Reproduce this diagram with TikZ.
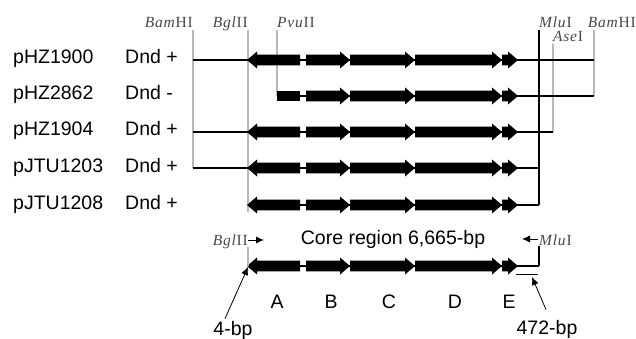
\documentclass[tikz,border=0pt]{standalone}
\usepackage{fontspec}
\setmainfont{Liberation Sans}
\newfontfamily\enzfont{Liberation Serif}[LetterSpace=5]
\usetikzlibrary{arrows.meta}
\tikzset{>={Latex[length=8pt,width=7pt]}}
\colorlet{Cutcol}{black!28}
\colorlet{Enzcol}{black!72}
\tikzset{
  lbl/.style={font=\fontsize{19.5}{20}\selectfont, inner sep=0pt},
  enz/.style={font=\enzfont\fontsize{15.5}{16}\selectfont, text=Enzcol, inner sep=0pt},
  cut/.style={Cutcol, line width=1.4pt},
  dna/.style={black, line width=1.8pt},
}

\begin{document}
\begin{tikzpicture}[x=1pt, y=-1pt]
    \useasboundingbox (0,0) rectangle (636,339);
    \def\BH{5.3}  % half height of gene body
    \def\HH{8.5}  % half height of gene head
    \def\HL{10}   % head length
    % gene pointing right / left: start, end, row
    \def\gener#1#2#3{\fill (#1,#3-\BH) -- (#2-\HL,#3-\BH) -- (#2-\HL,#3-\HH) -- (#2,#3) -- (#2-\HL,#3+\HH) -- (#2-\HL,#3+\BH) -- (#1,#3+\BH) -- cycle;}
    \def\genel#1#2#3{\fill (#2,#3-\BH) -- (#1+\HL,#3-\BH) -- (#1+\HL,#3-\HH) -- (#1,#3) -- (#1+\HL,#3+\HH) -- (#1+\HL,#3+\BH) -- (#2,#3+\BH) -- cycle;}

    % restriction sites
    \node (bamL) [enz, anchor=base east] at (193,28) {\textit{Bam}HI};
    \node (bgl)  [enz, anchor=base east] at (248,28) {\textit{Bgl}II};
    \node (pvu)  [enz, anchor=base west] at (277,28) {\textit{Pvu}II};
    \node (mlu)  [enz, anchor=base west] at (539,28) {\textit{Mlu}I};
    \node (ase)  [enz, anchor=base west] at (553,42) {\textit{Ase}I};
    \node (bamR) [enz, anchor=base east] at (636,28) {\textit{Bam}HI};
    \draw [cut] (193,30) -- (193,168);
    \draw [cut] (248,30) -- (248,212);
    \draw [cut] (277,30) -- (277,96);
    \draw [cut] (553,44) -- (553,132);
    \draw [cut] (594,30) -- (594,96);
    \draw [black, line width=1.1pt] (539,30) -- (539,205);

    % plasmids
    \foreach \y/\name/\sign in {60/pHZ1900/+, 96/pHZ2862/-, 132/pHZ1904/+, 168/pJTU1203/+, 205/pJTU1208/+}{
        \node (n\name) [lbl, anchor=base west] at (13,\y+4) {\name};
        \node (d\name) [lbl, anchor=base west] at (125,\y+4) {Dnd \sign};
    }
    \foreach \y/\xs/\xe in {60/193/594, 96/277/594, 132/193/553, 168/193/539, 205/248/539, 266/300/539}
        \draw [dna] (\xs,\y) -- (\xe,\y);
    \foreach \y in {60,132,168,205,266}
        \genel{247}{300}{\y}
    \fill (277,96-\BH) rectangle (300,96+\BH);
    \foreach \y in {60,96,132,168,205,266}{
        \gener{306}{350}{\y}
        \gener{350}{415}{\y}
        \gener{415}{502}{\y}
        \gener{502}{518}{\y}
    }

    % core region
    \node (bglc) [enz, anchor=base east] at (248,245) {\textit{Bgl}II};
    \draw [->, line width=0.8pt] (248,240) -- (264,240);
    \draw [Cutcol, line width=1.2pt] (248,247) -- (248,266);
    \node (core) [lbl, anchor=base] at (393,244) {Core region 6,665-bp};
    \node (mluc) [enz, anchor=base west] at (539,245) {\textit{Mlu}I};
    \draw [->, line width=0.8pt] (538,239) -- (522,239);
    \draw [line width=1.1pt] (539,246) -- (539,266);
    \draw [line width=1pt] (516,274) -- (538,274);
    \foreach \x/\g in {277/A, 331/B, 389/C, 455/D, 509/E}
        \node (g\g) [lbl] at (\x,302) {\g};
    \node (bp4) [lbl, anchor=base] at (233,335) {4-bp};
    \node (bp472) [lbl, anchor=base] at (547,334) {472-bp};
    \coordinate (tip4) at (248,267);
    \coordinate (tip472) at (532,277);
    \draw [->, line width=0.8pt] ([xshift=-8pt, yshift=2pt]bp4.north) -- (tip4);
    \draw [->, line width=0.8pt] ([xshift=-1pt, yshift=10pt]bp472.north) -- (tip472);
\end{tikzpicture}
\end{document}
